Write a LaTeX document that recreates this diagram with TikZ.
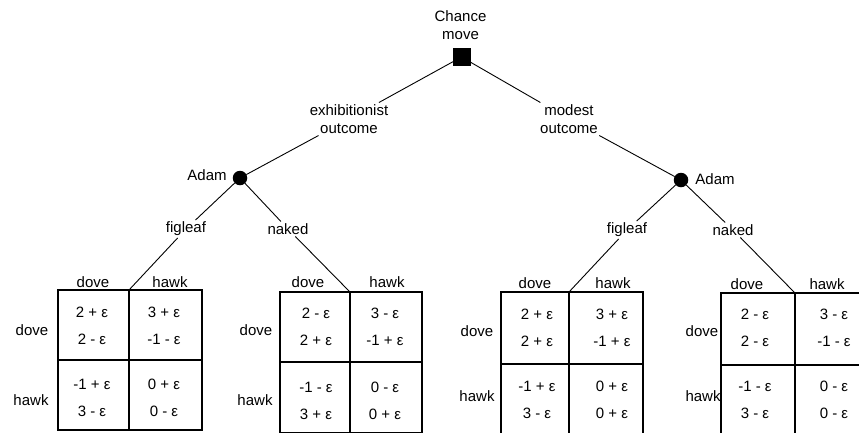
\documentclass[tikz,border=0pt]{standalone}
\usepackage{fontspec}
\setmainfont{Liberation Sans}

% grid lines of one payoff table plus a coordinate at the top of its middle line
% #1 name, #2 left, #3 middle, #4 right, #5 top, #6 row split, #7 bottom
\newcommand\gamegrid[7]{%
  \draw[grid] (#2,#5) rectangle (#4,#7);
  \draw[grid] (#3,#5) -- (#3,#7);
  \draw[grid] (#2,#6) -- (#4,#6);
  \coordinate (#1) at (#3,#5);
}
% the four payoff cells: #1 name, #2/#3 column centres, #4/#5 row centres
\newcommand\gamecells[9]{%
  \node[cell] (#1a) at (#2,#4) {#6};
  \node[cell] (#1b) at (#3,#4) {#7};
  \node[cell] (#1c) at (#2,#5) {#8};
  \node[cell] (#1d) at (#3,#5) {#9};
}

\begin{document}
\begin{tikzpicture}[x=1pt,y=-1pt,
  every node/.style={font=\fontsize{15}{18}\selectfont, inner sep=2pt, outer sep=0pt},
  branch/.style={line width=0.9pt},
  grid/.style={line width=1.3pt},
  lbl/.style={align=center},
  cell/.style={align=center, font=\fontsize{15}{27}\selectfont},
  chance/.style={fill=black, draw=black, minimum size=17pt, inner sep=0pt},
  player/.style={circle, fill=black, minimum size=14.5pt, inner sep=0pt}]

\useasboundingbox (0,0) rectangle (859,432);
\clip (0,0) rectangle (859,432);

% tree nodes
\node[chance] (c) at (461.5,57) {};
\node[lbl] (clab) at (460.5,25) {Chance\\move};
\node[lbl] (ex) at (349,119) {exhibitionist\\outcome};
\node[lbl] (mo) at (569,119) {modest\\outcome};
\node[player] (adL) at (240,178) {};
\node[player] (adR) at (681,180) {};
\node (adLlab) at (207,175) {Adam};
\node (adRlab) at (715,179) {Adam};
\node (figL) at (186,229) {figleaf};
\node (nakL) at (288,229) {naked};
\node (figR) at (627,230) {figleaf};
\node (nakR) at (733,230) {naked};

% payoff tables
\gamegrid{m1}{58}{129}{202}{290}{360}{430}
\gamegrid{m2}{280}{350}{422}{292}{362}{432.5}
\gamegrid{m3}{501}{569}{643}{292}{364}{440}
\gamegrid{m4}{721}{795}{869}{293}{365}{440}

\gamecells{m1}{92}{164}{326}{398}{2 + ε\\2 - ε}{3 + ε\\-1 - ε}{-1 + ε\\3 - ε}{0 + ε\\0 - ε}
\gamecells{m2}{316}{385}{327}{401}{2 - ε\\2 + ε}{3 - ε\\-1 + ε}{-1 - ε\\3 + ε}{0 - ε\\0 + ε}
\gamecells{m3}{537}{612}{328}{400}{2 + ε\\2 + ε}{3 + ε\\-1 + ε}{-1 + ε\\3 - ε}{0 + ε\\0 + ε}
\gamecells{m4}{755}{834}{328}{400}{2 - ε\\2 - ε}{3 - ε\\-1 - ε}{-1 - ε\\3 - ε}{0 - ε\\0 - ε}

% column and row headings
\node (m1cd) at (93,282) {dove};  \node (m1ch) at (170,282) {hawk};
\node (m1rd) at (32,330) {dove};  \node (m1rh) at (31,400) {hawk};
\node (m2cd) at (308,282) {dove}; \node (m2ch) at (387,282) {hawk};
\node (m2rd) at (256,330) {dove}; \node (m2rh) at (255,400) {hawk};
\node (m3cd) at (535,283) {dove}; \node (m3ch) at (613,283) {hawk};
\node (m3rd) at (477,331) {dove}; \node (m3rh) at (477,396) {hawk};
\node (m4cd) at (747,284) {dove}; \node (m4ch) at (827,284) {hawk};
\node (m4rd) at (702,331) {dove}; \node (m4rh) at (703,396) {hawk};

% branches
\draw[branch] (c) -- (ex);
\draw[branch] (ex) -- (adL);
\draw[branch] (c) -- (mo);
\draw[branch] (mo) -- (adR);
\draw[branch] (adL) -- (figL);
\draw[branch] (adL) -- (nakL);
\draw[branch] (adR) -- (figR);
\draw[branch] (adR) -- (nakR);
\draw[branch] (figL) -- (m1);
\draw[branch] (nakL) -- (m2);
\draw[branch] (figR) -- (m3);
\draw[branch] (nakR) -- (m4);
\end{tikzpicture}
\end{document}
